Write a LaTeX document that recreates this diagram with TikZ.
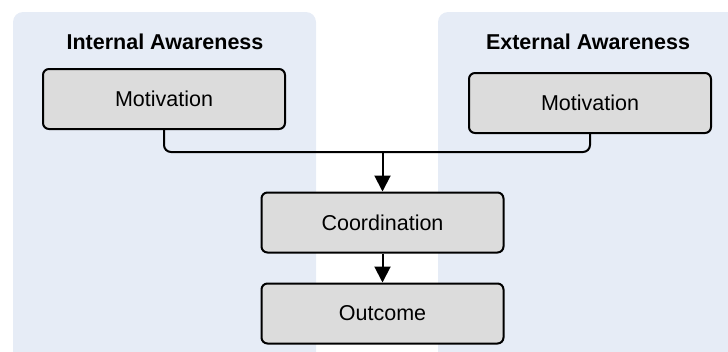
\documentclass[tikz,border=0pt]{standalone}
\usepackage{fontspec}
\setmainfont{Liberation Sans}
\usetikzlibrary{arrows.meta}
\definecolor{panel}{HTML}{E6ECF6}
\definecolor{boxfill}{HTML}{DCDCDC}
\begin{document}
\begin{tikzpicture}[x=1pt,y=-1pt,
  box/.style={draw, line width=2pt, rounded corners=6pt, fill=boxfill,
    minimum width=242pt, minimum height=60pt, inner sep=0pt,
    font=\fontsize{21.5}{25}\selectfont},
  paneltitle/.style={font=\bfseries\fontsize{21.5}{25}\selectfont},
  conn/.style={line width=2pt, rounded corners=7pt},
  arr/.style={line width=2pt, -{Triangle[width=16pt,length=16pt]}}]
\clip (0,0) rectangle (728,351);
\fill[panel, rounded corners=10pt] (13,12) rectangle (316,380);
\fill[panel, rounded corners=10pt] (438,12) rectangle (760,380);
\node[paneltitle] (t1) at (165,42) {Internal Awareness};
\node[paneltitle] (t2) at (588,42) {External Awareness};
\node[box] (m1) at (164,99) {Motivation};
\node[box] (m2) at (590,103) {Motivation};
\node[box] (c) at (382.5,222.5) {Coordination};
\node[box] (o) at (382.5,313.5) {Outcome};
\coordinate (j) at (382.5,152);
\draw[conn] (m1.south) |- (j) -| (m2.south);
\draw[arr] (j) -- (c.north);
\draw[arr] (c.south) -- (o.north);
\end{tikzpicture}
\end{document}
